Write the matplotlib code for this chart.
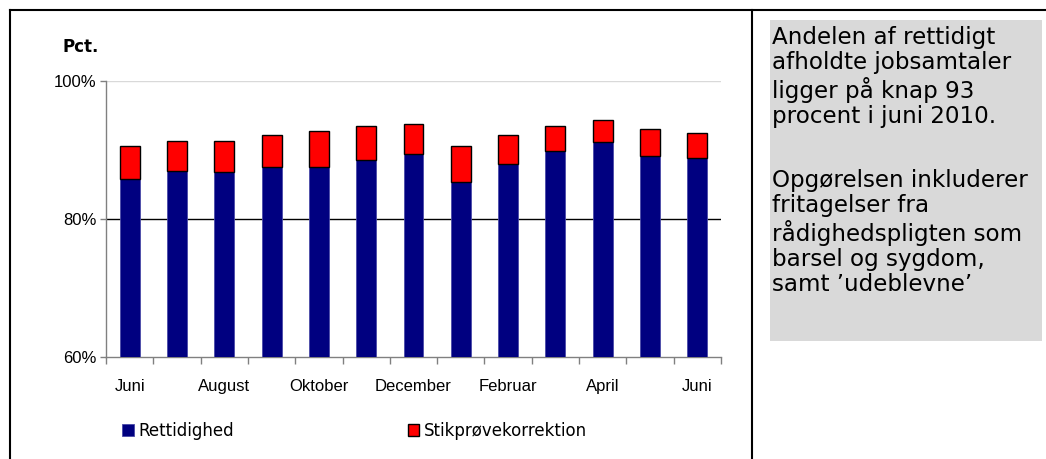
import matplotlib
matplotlib.use("Agg")
import matplotlib.pyplot as plt
from matplotlib.lines import Line2D
from matplotlib.patches import Rectangle

# Juni 2009 .. Juni 2010
months = ["Juni", "Juli", "August", "September", "Oktober", "November", "December",
          "Januar", "Februar", "Marts", "April", "Maj", "Juni"]
rettidighed = [85.8, 87.0, 86.8, 87.5, 87.5, 88.6, 89.4, 85.4, 88.0, 89.9, 91.2, 89.1, 88.8]
total = [90.6, 91.3, 91.3, 92.2, 92.7, 93.5, 93.8, 90.6, 92.2, 93.5, 94.3, 93.0, 92.5]
korrektion = [t - r for t, r in zip(total, rettidighed)]
yticks = [60, 80, 100]
ytick_labels = ["60%", "80%", "100%"]

note_1 = ("Andelen af rettidigt\nafholdte jobsamtaler\nligger på knap 93\n"
          "procent i juni 2010.")
note_2 = ("Opgørelsen inkluderer\nfritagelser fra\n"
          "rådighedspligten som\nbarsel og sygdom,\nsamt ’udeblevne’")

W, H = 1046, 459
fig = plt.figure(figsize=(W / 100, H / 100), dpi=100)
ax = fig.add_axes([106 / W, 1 - 357 / H, 615 / W, 276 / H])

x = list(range(len(months)))
ax.bar(x, rettidighed, width=0.42, bottom=0, color="#000080",
       edgecolor="#4a4aa8", linewidth=0.6, label="Rettidighed", zorder=3)
ax.bar(x, korrektion, width=0.42, bottom=rettidighed, color="#ff0000",
       edgecolor="black", linewidth=1.0, label="Stikprøvekorrektion", zorder=3)

ax.set_ylim(60, 100)
ax.set_xlim(-0.5, len(months) - 0.5)
ax.axhline(80, color="black", lw=1, zorder=2)
ax.axhline(100, color="#d9d9d9", lw=1, zorder=2)

ax.set_yticks(yticks)
ax.set_yticklabels(ytick_labels, family="Liberation Sans", fontsize=12)
ax.tick_params(axis="y", length=4, width=1, color="#808080", pad=3)

# ticks between months, labels on every second month
ax.set_xticks([i - 0.5 for i in range(len(months) + 1)])
ax.set_xticklabels([])
ax.set_xticks(x[::2], minor=True)
ax.set_xticklabels(months[::2], minor=True, family="Liberation Sans", fontsize=12)
ax.tick_params(axis="x", which="major", length=5, width=1, color="#808080")
ax.tick_params(axis="x", which="minor", length=0, pad=16)

for s in ["top", "right"]:
    ax.spines[s].set_visible(False)
for s in ["left", "bottom"]:
    ax.spines[s].set_color("#808080")
    ax.spines[s].set_linewidth(1)

fig.text(62 / W, 1 - 47 / H, "Pct.", fontsize=12, fontweight="bold",
         va="center", ha="left")

h, l = ax.get_legend_handles_labels()
fig.legend(h, l, loc="center left", bbox_to_anchor=(122 / W, 1 - 431 / H),
           ncol=2, frameon=False, fontsize=12, handlelength=0.7, handleheight=0.7,
           handletextpad=0.3, columnspacing=10.4, borderpad=0, borderaxespad=0)

# note box on the right
fig.patches.append(Rectangle((770 / W, 1 - 341 / H), 272 / W, 321 / H,
                             transform=fig.transFigure, facecolor="#d9d9d9",
                             edgecolor="none", zorder=0))
fig.text(772 / W, 1 - 26 / H, note_1, fontsize=16.6, va="top", ha="left",
         linespacing=1.12)
fig.text(772 / W, 1 - 169 / H, note_2, fontsize=16.6, va="top", ha="left",
         linespacing=1.12)

# frame
fig.add_artist(Line2D([10 / W, 1], [1 - 10 / H, 1 - 10 / H], color="black", lw=1.5))
fig.add_artist(Line2D([10 / W, 10 / W], [0, 1 - 10 / H], color="black", lw=1.5))
fig.add_artist(Line2D([752 / W, 752 / W], [0, 1 - 10 / H], color="black", lw=1.5))

fig.savefig("out.png", dpi=100)
